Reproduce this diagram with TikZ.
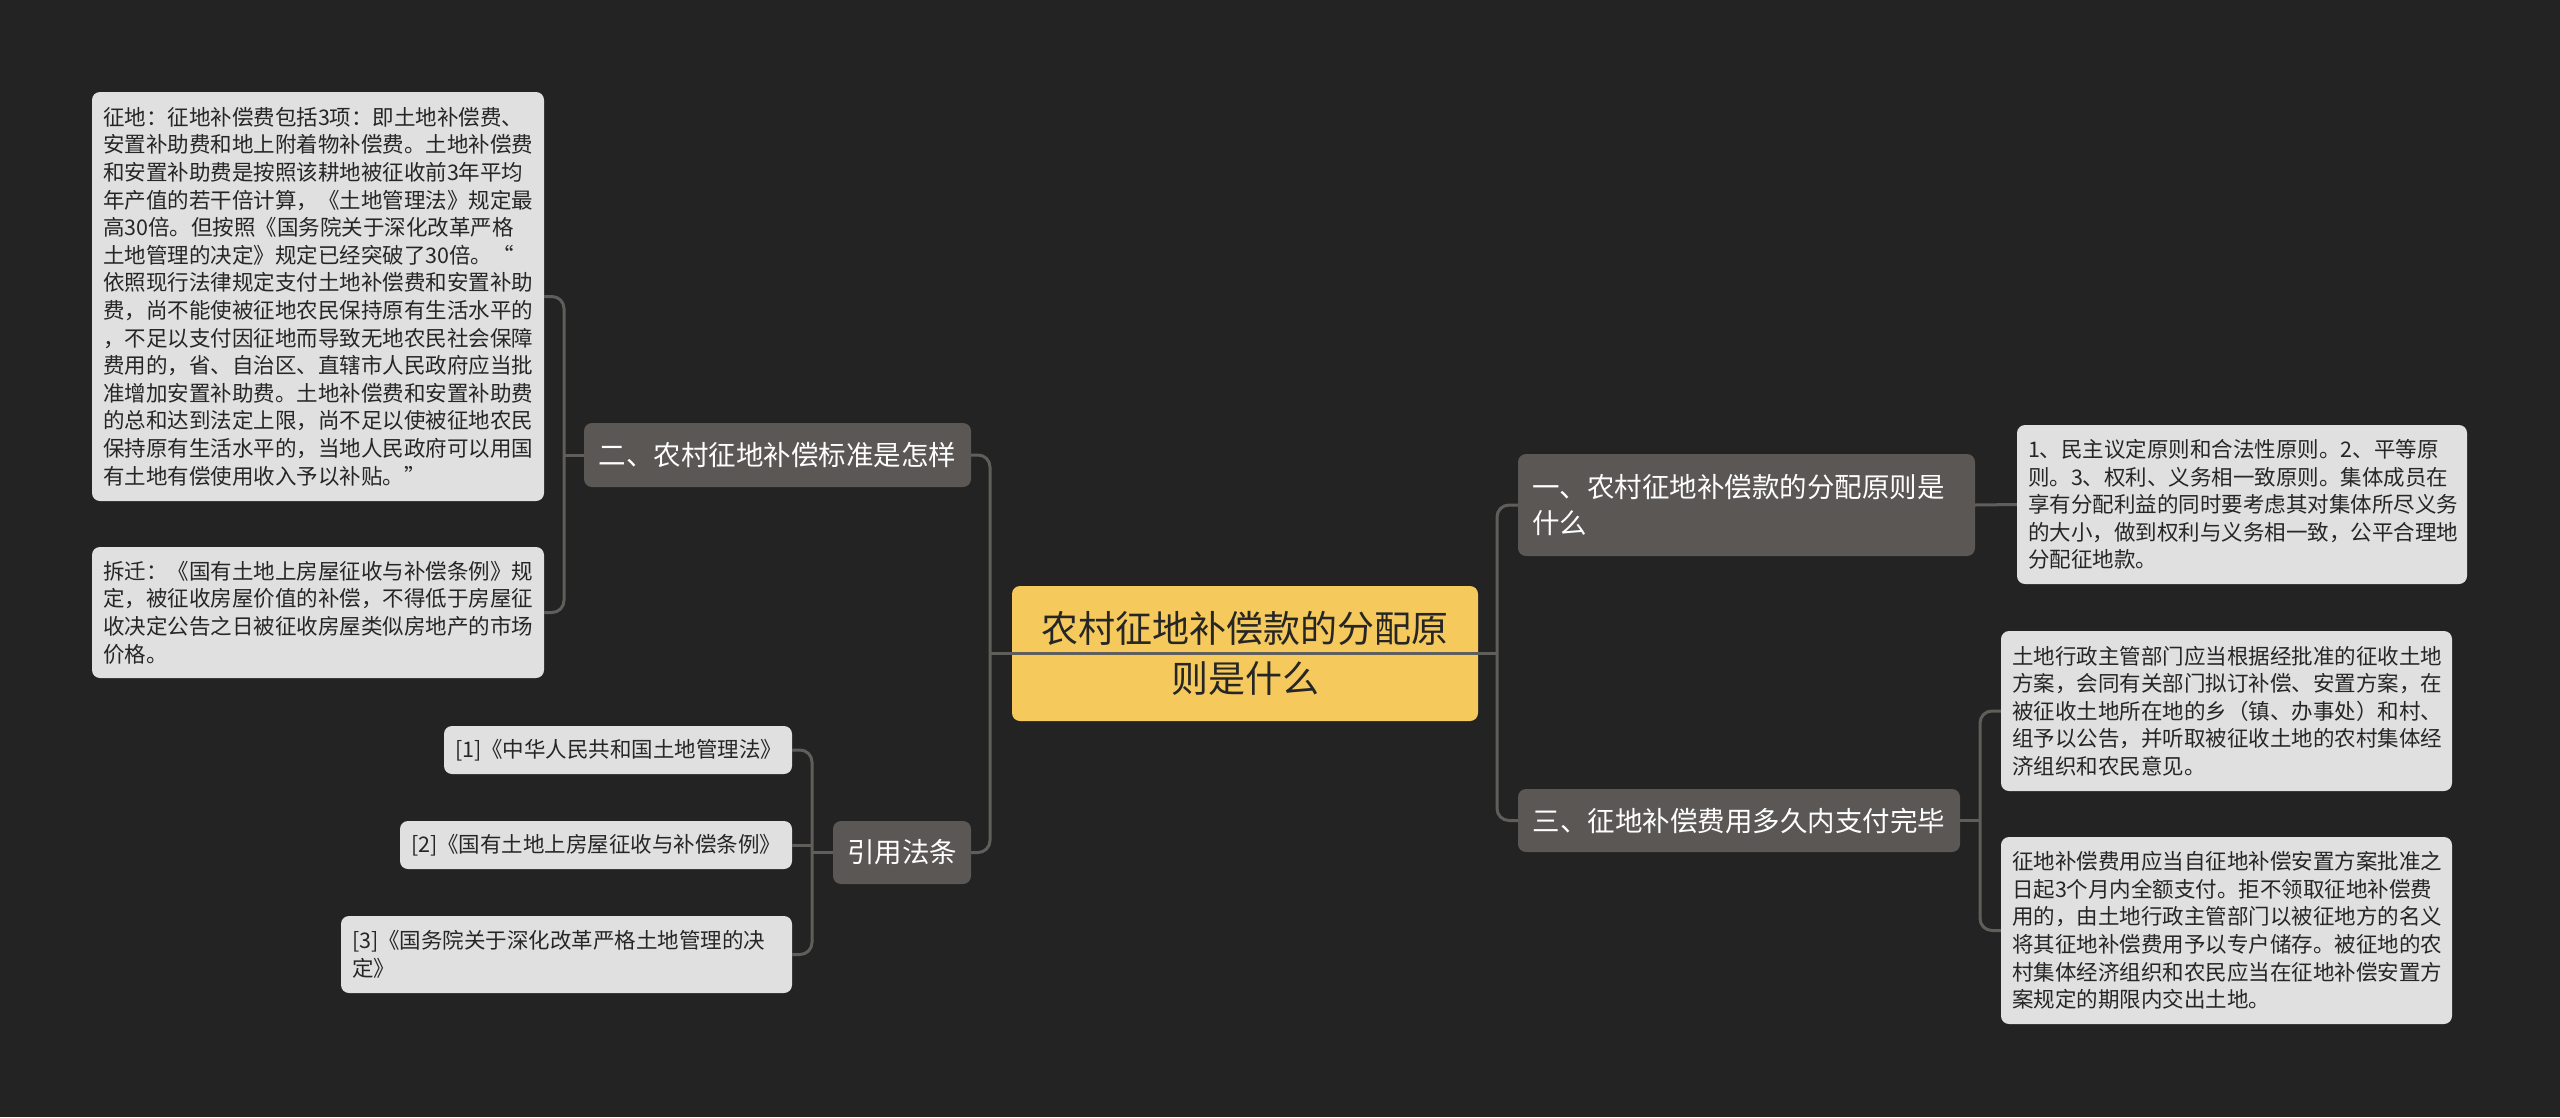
\documentclass[tikz,border=0pt]{standalone}
\usepackage{fontspec}
\setmainfont{Noto Sans CJK SC}
\definecolor{bgc}{HTML}{232323}
\definecolor{connc}{HTML}{605E5B}
\definecolor{branchc}{HTML}{5A5755}
\definecolor{leafc}{HTML}{E0E0E0}
\definecolor{ctrc}{HTML}{F5C95C}
\definecolor{darkc}{HTML}{262626}
\begin{document}
\begin{tikzpicture}[x=1pt,y=-1pt,
  conn/.style={draw=connc, line width=3pt},
  ctrbox/.style={fill=ctrc, rounded corners=8pt, text=darkc, align=center,
    font=\fontsize{37pt}{50pt}\selectfont, minimum width=466pt, minimum height=135pt, inner sep=0pt},
  branchbox/.style={fill=branchc, rounded corners=8pt, text=white, align=center,
    font=\fontsize{27.5pt}{36pt}\selectfont, inner xsep=14pt, inner ysep=0pt},
  leafbox/.style={fill=leafc, rounded corners=8pt, text=darkc, align=left,
    font=\fontsize{21.5pt}{27.6pt}\selectfont, inner xsep=11pt, inner ysep=0pt}
]
\fill[bgc] (0,0) rectangle (2560,1117);

% centre
\node[ctrbox] (ctr) at (1245,653.5) {农村征地补偿款的分配原\\则是什么};

% branches
\node[branchbox, minimum width=387pt, minimum height=64pt] (b2) at (777.5,455) {二、农村征地补偿标准是怎样};
\node[branchbox, minimum width=138pt, minimum height=63pt] (b4) at (902,852.5) {引用法条};
\node[branchbox, text width=429pt, align=left, minimum height=102pt] (b1) at (1746.5,505) {一、农村征地补偿款的分配原则是\\什么};
\node[branchbox, minimum width=442pt, minimum height=63pt] (b3) at (1739,820.5) {三、征地补偿费用多久内支付完毕};

% left leaves
\node[leafbox, text width=430pt, minimum height=409pt] (leafA) at (318,296.5) {征地：征地补偿费包括3项：即土地补偿费、\\安置补助费和地上附着物补偿费。土地补偿费\\和安置补助费是按照该耕地被征收前3年平均\\年产值的若干倍计算，《土地管理法》规定最\\高30倍。但按照《国务院关于深化改革严格\\土地管理的决定》规定已经突破了30倍。“\\依照现行法律规定支付土地补偿费和安置补助\\费，尚不能使被征地农民保持原有生活水平的\\，不足以支付因征地而导致无地农民社会保障\\费用的，省、自治区、直辖市人民政府应当批\\准增加安置补助费。土地补偿费和安置补助费\\的总和达到法定上限，尚不足以使被征地农民\\保持原有生活水平的，当地人民政府可以用国\\有土地有偿使用收入予以补贴。”};
\node[leafbox, text width=430pt, minimum height=131pt] (leafB) at (318,612.5) {拆迁：《国有土地上房屋征收与补偿条例》规\\定，被征收房屋价值的补偿，不得低于房屋征\\收决定公告之日被征收房屋类似房地产的市场\\价格。};

\node[leafbox, text width=326pt, minimum height=48pt] (r1) at (618,750) {[1]《中华人民共和国土地管理法》};
\node[leafbox, text width=370pt, minimum height=48pt] (r2) at (596,845) {[2]《国有土地上房屋征收与补偿条例》};
\node[leafbox, text width=429pt, minimum height=77pt] (r3) at (566.5,954.5) {[3]《国务院关于深化改革严格土地管理的决\\定》};

% right leaves
\node[leafbox, text width=428pt, minimum height=159pt] (leaf1) at (2242,504.5) {1、民主议定原则和合法性原则。2、平等原\\则。3、权利、义务相一致原则。集体成员在\\享有分配利益的同时要考虑其对集体所尽义务\\的大小，做到权利与义务相一致，公平合理地\\分配征地款。};
\node[leafbox, text width=429pt, minimum height=160pt] (leaf2) at (2226.5,711) {土地行政主管部门应当根据经批准的征收土地\\方案，会同有关部门拟订补偿、安置方案，在\\被征收土地所在地的乡（镇、办事处）和村、\\组予以公告，并听取被征收土地的农村集体经\\济组织和农民意见。};
\node[leafbox, text width=429pt, minimum height=187pt] (leaf3) at (2226.5,930.5) {征地补偿费用应当自征地补偿安置方案批准之\\日起3个月内全额支付。拒不领取征地补偿费\\用的，由土地行政主管部门以被征地方的名义\\将其征地补偿费用予以专户储存。被征地的农\\村集体经济组织和农民应当在征地补偿安置方\\案规定的期限内交出土地。};

% junctions
\coordinate (lt) at (990,653.5);
\coordinate (rt) at (1497,653.5);
\coordinate (j2) at (564,455);
\coordinate (j4) at (812,852.5);
\coordinate (j3) at (1980,820.5);

% connectors
\draw[conn, rounded corners=12pt] (b2.east) -| (lt) |- (b4.east);
\draw[conn, rounded corners=12pt] (b1.west) -| (rt) |- (b3.west);
\draw[conn] (lt) -- (rt);
\draw[conn, rounded corners=12pt] (leafA.east) -| (j2) |- (leafB.east);
\draw[conn] (b2.west) -- (j2);
\draw[conn, rounded corners=12pt] (r1.east) -| (j4) |- (r3.east);
\draw[conn] (r2.east) -- (r2.east -| j4);
\draw[conn] (b4.west) -- (j4);
\draw[conn] (b1.east) -- (leaf1.west);
\draw[conn, rounded corners=12pt] (leaf2.west) -| (j3) |- (leaf3.west);
\draw[conn] (b3.east) -- (j3);
\end{tikzpicture}
\end{document}
